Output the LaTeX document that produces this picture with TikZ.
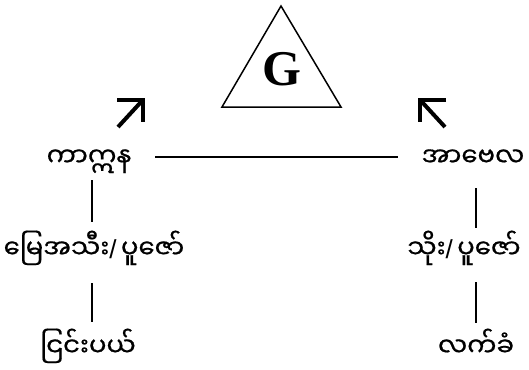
\documentclass[tikz,border=0pt]{standalone}
\usepackage{fontspec}
\setmainfont{Liberation Serif}
\newfontfamily\myfont[Script=Myanmar, FakeBold=0.6]{Noto Sans Myanmar UI}
\newfontfamily\slfont{Liberation Sans}
\newcommand{\slsh}{{\slfont/\,}}
\begin{document}
\begin{tikzpicture}[x=1pt,y=-1pt,
  lbl/.style={font=\myfont\fontsize{26}{30}\selectfont, inner sep=0pt, anchor=base},
  conn/.style={line width=1.4pt},
  bigarrow/.style={line width=4pt, miter limit=10, line join=miter},
  tri/.style={line width=1.5pt, line join=miter}]
\useasboundingbox (0,0) rectangle (529,369);
\fill[white] (0,0) rectangle (529,369);
% triangle with G
\coordinate (apex) at (281,6);
\coordinate (bl) at (222,107);
\coordinate (br) at (341,107);
\draw[tri] (apex) -- (bl) -- (br) -- cycle;
\node[font=\bfseries\fontsize{50}{56}\selectfont, inner sep=0pt, anchor=base] (g) at (282,85) {G};
% arrows
\draw[bigarrow] (117,99.5) -- (143,99.5) -- (143,122);
\draw[bigarrow] (118,127) -- (141,102);
\draw[bigarrow] (446,99.5) -- (420,99.5) -- (420,122);
\draw[bigarrow] (445,127) -- (422,102);
% labels
\node[lbl] (kain) at (89,166) {ကာဣန};
\node[lbl] (abel) at (473,166) {အာဗေလ};
\node[lbl] (off1) at (94,258) {မြေအသီး\slsh ပူဇော်};
\node[lbl] (off2) at (464,258) {သိုး\slsh ပူဇော်};
\node[lbl] (rej) at (88,356) {ငြင်းပယ်};
\node[lbl] (acc) at (476,356) {လက်ခံ};
% connectors
\draw[conn] ([shift={(66,-9)}]kain.base) -- ([shift={(-75,-9)}]abel.base);
\draw[conn] ([shift={(3,14)}]kain.base) -- ([shift={(-2,-36)}]off1.base);
\draw[conn] ([shift={(-2,25)}]off1.base) -- ([shift={(4,-34)}]rej.base);
\draw[conn] ([shift={(3,22)}]abel.base) -- ([shift={(12,-30)}]off2.base);
\draw[conn] ([shift={(12,24)}]off2.base) -- ([shift={(0,-33)}]acc.base);
\end{tikzpicture}
\end{document}
